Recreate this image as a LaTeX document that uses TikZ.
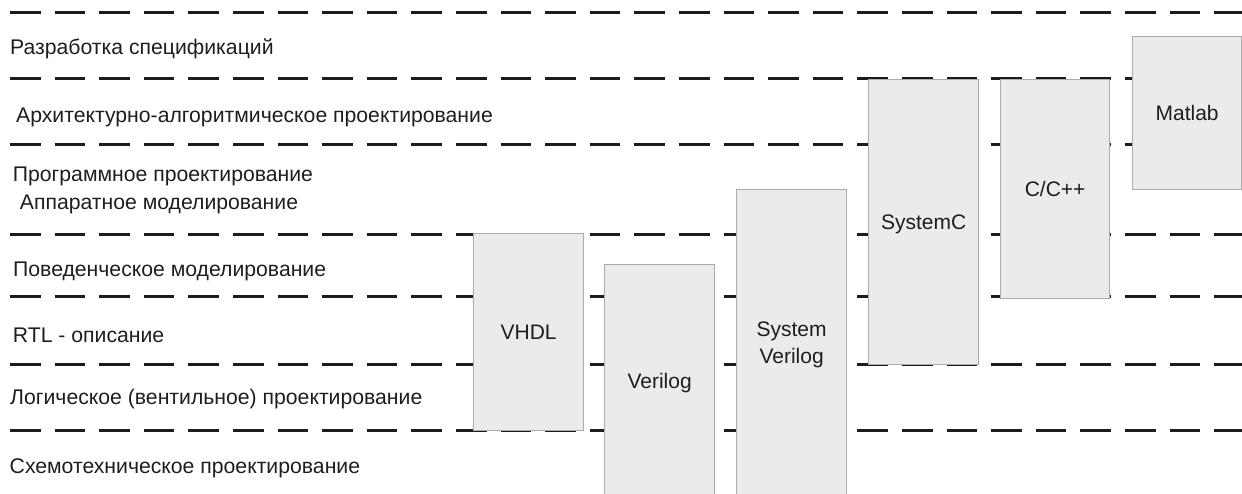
\documentclass[tikz,border=0pt]{standalone}
\usepackage{fontspec}
\setmainfont{Liberation Sans}
\usepackage{tikz}

\definecolor{boxfill}{HTML}{EBEBEB}
\definecolor{boxline}{HTML}{ABABAB}
\definecolor{inkline}{HTML}{1C1C1C}
\definecolor{inktext}{HTML}{1E1E1E}

\begin{document}
\begin{tikzpicture}[
    x=1pt, y=-1pt,
    levelline/.style={line width=3pt, draw=inkline, dash pattern=on 30.5pt off 14.1pt},
    leveltext/.style={anchor=base west, inner sep=0pt, text=inktext, font=\fontsize{21.2}{28.5}\selectfont},
    langbox/.style={rectangle, draw=boxline, fill=boxfill, line width=1.2pt, anchor=north west, inner sep=0pt,
        minimum width=110pt, text depth=0pt, text=inktext, align=center, font=\fontsize{21}{27}\selectfont}
]
\useasboundingbox (0,0) rectangle (1242,494);

% level separators
\foreach \y in {13,79,145,235,297,364,430}
    \draw[levelline] (10,\y) -- (1242,\y);

% design levels
\node[leveltext] (spec) at (10,55) {Разработка спецификаций};
\node[leveltext] (arch) at (16,122.5) {Архитектурно-алгоритмическое проектирование};
\node[leveltext, align=left] (prog) at (12.7,210) {Программное проектирование\\\hspace{7pt}Аппаратное моделирование};
\node[leveltext] (behav) at (13,276.7) {Поведенческое моделирование};
\node[leveltext] (rtl) at (12.7,342) {RTL - описание};
\node[leveltext] (logic) at (10,404) {Логическое (вентильное) проектирование};
\node[leveltext] (circuit) at (9.5,473.3) {Схемотехническое проектирование};

% languages
\node[langbox, minimum height=197pt] (vhdl) at (473,233) {VHDL};
\node[langbox, minimum height=233pt] (verilog) at (604,264) {Verilog};
\node[langbox, minimum height=307pt] (sysverilog) at (736,189) {System\\Verilog};
\node[langbox, minimum height=285pt] (systemc) at (868,79) {SystemC};
\node[langbox, minimum height=219pt, minimum width=109pt] (cpp) at (1000,79) {C/C++};
\node[langbox, minimum height=153pt, minimum width=109pt] (matlab) at (1132,36) {Matlab};
\end{tikzpicture}
\end{document}
